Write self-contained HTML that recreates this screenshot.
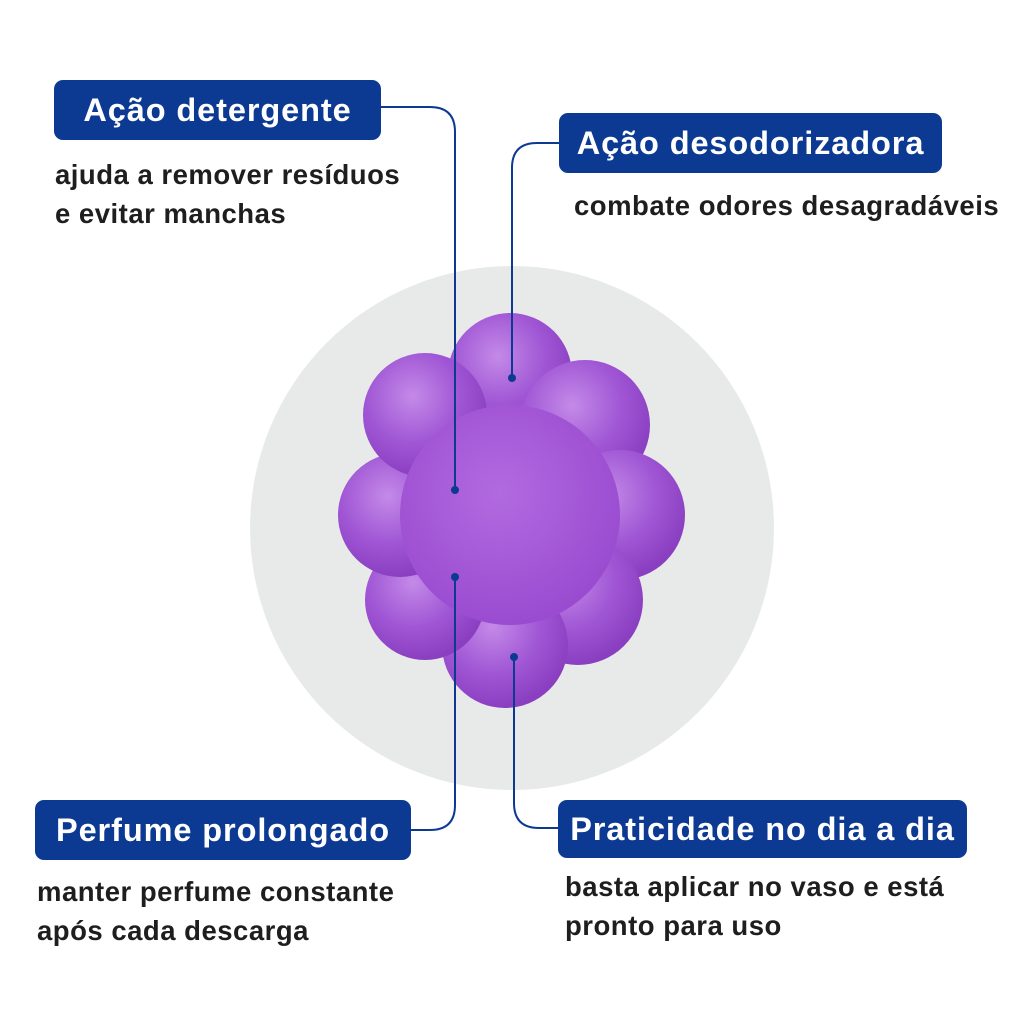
<!DOCTYPE html>
<html><head><meta charset="utf-8"><style>
body{margin:0;width:1024px;height:1024px;background:#fff;position:relative;overflow:hidden;font-family:"Liberation Sans",sans-serif}
.b{position:absolute;background:#0c3a93;color:#fff;font-weight:bold;font-size:32.5px;border-radius:9px;display:flex;align-items:center;justify-content:center;letter-spacing:0.9px;white-space:nowrap}
.t{position:absolute;color:#1e1e1e;font-weight:bold;font-size:27.5px;line-height:39px;letter-spacing:0.5px;white-space:nowrap}
</style></head><body>
<svg width="1024" height="1024" style="position:absolute;left:0;top:0">
<defs>
<radialGradient id="g" cx="45%" cy="40%" r="60%"><stop offset="0" stop-color="#b26ae0"/><stop offset="1" stop-color="#9a4cd0"/></radialGradient>
<radialGradient id="p" cx="40%" cy="35%" r="65%"><stop offset="0" stop-color="#c48ae8"/><stop offset="0.6" stop-color="#9f55d4"/><stop offset="1" stop-color="#8a3fc0"/></radialGradient>
</defs>
<circle cx="512" cy="528" r="262" fill="#e8eaea"/>
<g fill="url(#p)">
<circle cx="510" cy="375" r="62"/>
<circle cx="585" cy="425" r="65"/>
<circle cx="620" cy="515" r="65"/>
<circle cx="578" cy="600" r="65"/>
<circle cx="505" cy="645" r="63"/>
<circle cx="425" cy="600" r="60"/>
<circle cx="400" cy="515" r="62"/>
<circle cx="425" cy="415" r="62"/>
</g>
<circle cx="510" cy="515" r="110" fill="url(#g)"/>
<g fill="none" stroke="#0c3a93" stroke-width="2">
<path d="M381 107 H430 Q455 107 455 132 V490"/>
<path d="M559 143 H537 Q512 143 512 168 V378"/>
<path d="M411 830 H430 Q455 830 455 805 V577"/>
<path d="M558 828 H539 Q514 828 514 803 V657"/>
</g>
<g fill="#0c3a93"><circle cx="455" cy="490" r="4"/><circle cx="512" cy="378" r="4"/><circle cx="455" cy="577" r="4"/><circle cx="514" cy="657" r="4"/></g>
</svg>
<div class="b" style="left:54px;top:80px;width:327px;height:60px">Ação detergente</div>
<div class="t" style="left:55px;top:155px">ajuda a remover resíduos<br>e evitar manchas</div>
<div class="b" style="left:559px;top:113px;width:383px;height:60px">Ação desodorizadora</div>
<div class="t" style="left:574px;top:186px">combate odores desagradáveis</div>
<div class="b" style="left:35px;top:800px;width:376px;height:60px">Perfume prolongado</div>
<div class="t" style="left:37px;top:872px">manter perfume constante<br>após cada descarga</div>
<div class="b" style="left:558px;top:800px;width:409px;height:58px">Praticidade no dia a dia</div>
<div class="t" style="left:565px;top:867px">basta aplicar no vaso e está<br>pronto para uso</div>
</body></html>
